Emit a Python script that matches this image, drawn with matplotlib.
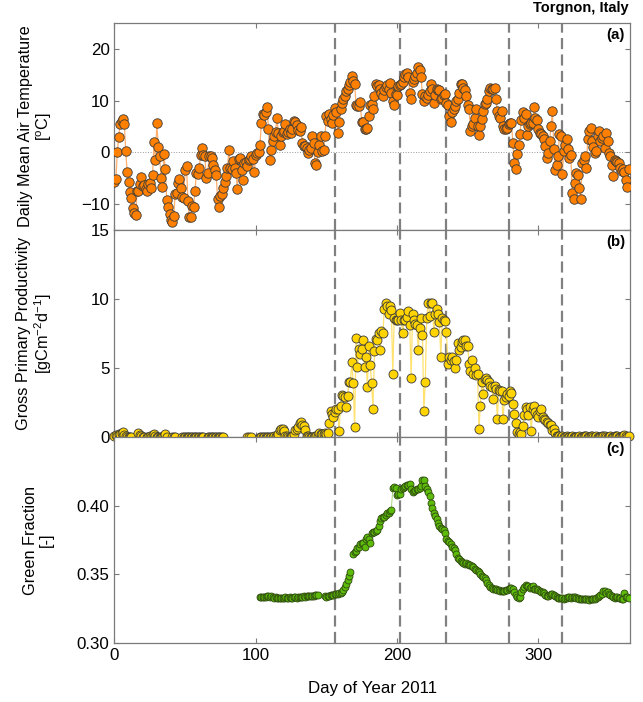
import numpy as np
import matplotlib
matplotlib.use("Agg")
import matplotlib.pyplot as plt

plt.rcParams['font.family'] = ['Liberation Sans', 'DejaVu Sans']
plt.rcParams['mathtext.fontset'] = 'custom'
plt.rcParams['mathtext.rm'] = 'Liberation Sans'
plt.rcParams['mathtext.it'] = 'Liberation Sans:italic'
plt.rcParams['mathtext.default'] = 'regular'

nan = np.nan

# ---- Data: daily mean air temperature, days 0..364 ----
temp = [
    -5.7, -5.2, 0.0, 3.0, 5.5, 6.0, 6.5, 5.5, 0.2, -3.8,          # 0
    -5.8, -7.7, -8.8, -10.8, -11.8, -12.2, -7.5, -7.5, -6.2, -4.7,  # 10
    -6.5, -6.3, -7.0, -7.5, -6.2, -6.0, -6.8, -4.3, 2.0, -1.5,      # 20
    5.7, 1.0, -0.7, -5.0, -6.7, -0.3, -3.2, -9.3, -10.5, -12.0,     # 30
    -13.0, -13.4, -12.3, -8.0, -7.8, -6.0, -5.2, -6.9, -8.6, -8.8,  # 40
    -3.5, -2.6, -9.4, -12.5, -12.5, -10.4, -10.5, -7.4, -4.0, -4.2, # 50
    -3.0, -0.5, 0.9, -0.6, -0.8, -5.0, -4.0, -0.8, -0.8, -1.1,      # 60
    -2.5, -3.5, -4.3, -9.1, -10.6, -8.4, -8.1, -6.8, -5.7, -4.6,    # 70
    -3.1, 0.5, -3.1, -3.3, -1.7, -3.0, -4.0, -7.0, -1.2, -1.0,      # 80
    -3.4, -5.4, -2.0, -1.9, -2.6, -1.5, -1.2, -0.8, -1.2, -3.8,     # 90
    -0.6, -0.2, 0.1, 1.5, 5.6, 7.5, 7.3, 7.7, 8.7, 4.5,             # 100
    -1.4, 0.5, 2.2, 3.1, 4.0, 6.6, 3.8, 1.5, 3.1, 4.0,              # 110
    4.2, 5.4, 3.5, 4.0, 4.6, 3.7, 4.6, 6.0, 5.9, 5.2,               # 120
    4.3, 4.2, 4.9, 1.9, 1.2, 1.3, 0.9, -0.1, 0.5, 0.9,              # 130
    3.2, 1.9, -2.1, -2.5, 0.0, 1.5, 3.2, 0.3, 0.5, 3.2,             # 140
    7.0, 6.1, 7.5, 6.4, 5.7, 7.2, 8.6, 7.8, 3.7, 5.9,               # 150
    8.3, 9.5, 10.3, 10.9, 11.9, 12.2, 13.0, 13.5, 14.8, 13.8,       # 160
    13.2, 9.2, 9.0, 9.0, 9.7, 5.9, 5.9, 4.6, 4.5, 4.8,              # 170
    7.0, 9.1, 9.4, 8.3, 10.9, 13.2, 12.9, 13.0, 12.2, 11.5,         # 180
    10.9, 12.0, 12.7, 13.0, 12.2, 13.4, 11.5, 10.0, 9.1, 11.2,      # 190
    11.1, 12.8, 13.0, 13.2, 13.5, 14.5, 15.1, 15.3, 14.6, 11.5,     # 200
    10.3, 13.6, 14.2, 14.8, 15.3, 16.4, 15.9, 14.5, 11.2, 9.9,      # 210
    10.9, 10.5, 11.0, 11.9, 13.2, 12.2, 9.6, 11.0, 12.3, 12.0,      # 220
    12.1, 10.3, 10.5, 11.0, 11.2, 9.5, 9.1, 7.0, 5.9, 7.7,          # 230
    8.3, 9.0, 9.9, 10.3, 11.5, 13.2, 13.2, 12.5, 12.1, 10.9,        # 240
    9.1, 8.3, 4.1, 5.0, 5.4, 6.7, 8.3, 5.1, 3.3, 5.0,               # 250
    6.4, 8.0, 9.3, 9.6, 10.3, 11.9, 12.5, 12.2, 12.2, 12.5,         # 260
    10.3, 8.0, 7.0, 6.7, 8.0, 5.1, 4.5, 4.6, 4.8, 5.4,              # 270
    5.7, 5.6, 1.9, -2.0, -3.2, -0.4, 1.4, 3.5, 6.3, 7.7,            # 280
    6.7, 7.4, 3.3, 5.0, 5.4, 5.6, 5.7, 8.8, 6.7, 6.3,               # 290
    4.5, 3.8, 3.5, 3.2, 2.6, 1.2, -1.0, -0.1, 2.2, 5.0,             # 300
    8.0, 0.6, -3.4, -2.5, -0.7, 3.5, 3.2, -4.1, 0.3, 1.5,           # 310
    2.5, 0.7, -1.0, -0.6, -7.8, -9.1, -6.0, -3.9, -4.3, -6.8,       # 320
    -9.1, -2.0, -1.5, -0.7, -3.0, 2.5, 4.1, 4.8, 2.2, 1.0,          # 330
    -0.1, 0.3, 3.2, 4.1, 2.2, 2.8, 3.2, 0.9, 3.8, 2.2,              # 340
    -0.2, -0.7, -2.5, -4.6, -1.4, -1.7, -1.8, -2.0, -3.0, -3.6,     # 350
    -3.2, -3.8, -5.4, -6.6, -3.2,                                   # 360
]

# ---- Data: gross primary productivity, days 0..364 ----
gpp = [
    0.05, 0.15, 0.1, 0.25, 0.2, 0.3, 0.35, 0.15, 0.05, 0.0,      # 0
    0.0, 0.0, 0.0, nan, nan, nan, nan, 0.3, 0.15, 0.05,          # 10
    0.0, 0.0, nan, 0.0, 0.0, 0.05, 0.0, 0.15, 0.25, 0.1,         # 20
    0.0, 0.0, 0.0, 0.0, 0.0, 0.05, 0.2, 0.0, nan, nan,           # 30
    nan, 0.0, 0.0, 0.0, nan, nan, nan, nan, 0.0, 0.0,            # 40
    0.0, 0.0, 0.0, 0.0, 0.0, 0.0, 0.0, 0.0, 0.0, 0.0,            # 50
    0.0, 0.0, 0.0, 0.0, nan, nan, 0.0, 0.0, 0.0, 0.0,            # 60
    0.0, 0.0, 0.0, 0.0, 0.0, 0.0, 0.0, 0.0, nan, nan,            # 70
    nan, nan, nan, nan, nan, nan, nan, nan, nan, nan,            # 80
    nan, nan, nan, nan, 0.0, 0.0, nan, 0.0, nan, nan,            # 90
    nan, nan, nan, 0.0, 0.0, 0.0, 0.0, 0.0, 0.0, 0.0,            # 100
    0.0, 0.0, 0.0, 0.05, 0.05, 0.1, 0.2, 0.5, 0.6, 0.6,          # 110
    0.4, 0.1, 0.05, 0.0, 0.0, 0.0, 0.05, 0.2, 0.5, 0.6,          # 120
    0.7, 1.0, 1.1, 0.9, 0.8, 0.5, 0.1, 0.05, 0.0, 0.0,           # 130
    0.0, 0.0, 0.05, 0.1, 0.1, 0.3, 0.25, 0.25, 0.25, 0.3,        # 140
    0.25, 0.3, 1.0, 1.9, 1.7, 1.45, 1.8, 2.0, 2.0, 0.45,         # 150
    2.25, 3.05, 3.0, 2.9, 2.2, 3.0, 4.0, 4.0, 5.4, 3.9,          # 160
    0.7, 7.2, 5.1, 6.4, 6.0, 6.4, 7.0, 5.1, 5.8, 3.6,            # 170
    6.6, 5.2, 3.9, 2.05, 6.2, 7.1, 7.0, 7.5, 6.3, 7.7,           # 180
    7.5, 9.3, 9.7, 9.5, 8.9, 9.5, 9.2, 4.6, 8.6, 8.5,            # 190
    8.5, 8.5, 9.0, 8.5, 7.5, 8.5, 8.5, 8.7, 9.1, 8.1,            # 200
    4.3, 8.9, 8.5, 8.2, 8.1, 6.3, 7.9, 8.6, 7.4, 1.9,            # 210
    4.0, 8.6, 9.7, 8.8, 9.7, 9.7, 7.6, 8.9, 9.3, 8.9,            # 220
    8.3, 5.8, 8.6, 8.5, 8.4, 7.6, 5.3, 5.8, 5.6, 5.8,            # 230
    5.5, 5.0, 5.6, 6.8, 6.3, 6.5, 6.9, 7.0, 7.0, 6.6,            # 240
    6.6, 5.3, 4.8, 5.6, 4.6, 5.0, 4.5, 4.6, 0.6, 2.25,           # 250
    4.0, 3.1, 4.2, 4.3, 4.1, 4.0, 3.7, 3.6, 2.75, 3.7,           # 260
    3.5, 1.3, 3.4, 3.3, 3.3, 1.3, 2.65, 2.9, 3.1, 3.0,           # 270
    3.3, 3.2, 2.4, 1.7, 1.0, 0.35, 0.25, 0.35, 0.25, 0.8,        # 280
    1.6, 2.2, 2.05, 1.6, 2.2, 0.45, 2.05, 2.25, 1.8, 1.6,        # 290
    1.45, 1.9, 2.05, 1.45, 1.3, 1.2, 1.1, 1.0, 0.85, 0.9,        # 300
    0.5, 0.6, 0.3, 0.05, 0.1, 0.05, 0.0, 0.05, 0.0, 0.0,         # 310
    0.05, 0.0, 0.0, 0.0, 0.05, 0.0, 0.0, 0.0, 0.0, 0.05,         # 320
    0.0, 0.0, 0.05, 0.1, 0.05, 0.0, 0.0, 0.05, 0.1, 0.0,         # 330
    0.0, 0.05, 0.0, 0.0, 0.0, 0.05, 0.1, 0.05, 0.0, 0.0,         # 340
    0.0, 0.05, 0.0, 0.0, 0.05, 0.1, 0.05, 0.0, 0.0, 0.05,        # 350
    0.1, 0.15, 0.1, 0.0, 0.05,                                   # 360
]

# ---- Data: green fraction, days 103..364 ----
green_start = 103
green = [
    0.3336, 0.3334, 0.3337, 0.3333, 0.3336, 0.3340, 0.3343,                  # 103
    0.3338, 0.3341, 0.3336, 0.3330, 0.3332, 0.3328, 0.3330, 0.3327, 0.3331, 0.3328,  # 110
    0.3330, 0.3332, 0.3329, 0.3331, 0.3333, 0.3330, 0.3328, 0.3332, 0.3334, 0.3331,  # 120
    0.3333, 0.3336, 0.3334, 0.3337, 0.3339, 0.3337, 0.3340, 0.3342, 0.3341, 0.3344,  # 130
    0.3346, 0.3345, 0.3348, 0.3350, 0.3352, nan, nan, nan, nan, 0.3340,               # 140
    0.3338, 0.3341, 0.3344, 0.3347, 0.3350, 0.3352, 0.3355, 0.3357, 0.3360, 0.3363,  # 150
    0.3367, 0.3372, 0.3388, 0.3405, 0.3430, 0.3460, 0.3490, 0.3520, nan, 0.3650,     # 160
    0.3660, 0.3670, 0.3690, 0.3700, 0.3720, 0.3725, 0.3730, 0.3700, 0.3760, 0.3770,  # 170
    0.3755, 0.3730, 0.3800, 0.3805, 0.3810, 0.3815, 0.3820, 0.3855, 0.3890, 0.3910,  # 180
    0.3915, 0.3920, 0.3935, 0.3945, 0.3950, 0.3960, 0.3970, 0.4130, 0.4135, 0.4128,  # 190
    0.4080, 0.4082, 0.4085, 0.4120, 0.4130, 0.4135, 0.4145, 0.4150, 0.4152, 0.4157,  # 200
    0.4120, 0.4097, 0.4110, 0.4115, 0.4120, 0.4125, 0.4130, 0.4145, 0.4190, 0.4186,  # 210
    0.4145, 0.4125, 0.4100, 0.4070, 0.4020, 0.3980, 0.3950, 0.3925, 0.3900, 0.3875,  # 220
    0.3855, 0.3840, 0.3830, 0.3820, 0.3800, 0.3760, 0.3745, 0.3735, 0.3720, 0.3700,  # 230
    0.3690, 0.3680, 0.3650, 0.3620, 0.3610, 0.3600, 0.3590, 0.3580, 0.3575, 0.3583,  # 240
    0.3578, 0.3570, 0.3565, 0.3560, 0.3550, 0.3540, 0.3530, 0.3524, 0.3515, 0.3500,  # 250
    0.3490, 0.3480, 0.3470, 0.3460, 0.3440, 0.3425, 0.3405, 0.3398, 0.3396, 0.3392,  # 260
    0.3390, 0.3386, 0.3383, 0.3380, 0.3379, 0.3380, 0.3382, 0.3384, 0.3388, 0.3392,  # 270
    0.3400, 0.3398, 0.3390, 0.3372, 0.3350, 0.3335, 0.3330, 0.3336, 0.3370, 0.3396,  # 280
    0.3410, 0.3420, 0.3418, 0.3413, 0.3400, 0.3405, 0.3413, 0.3396, 0.3393, 0.3390,  # 290
    0.3385, 0.3380, 0.3375, 0.3370, 0.3365, 0.3353, 0.3345, 0.3340, 0.3348, 0.3355,  # 300
    0.3360, 0.3353, 0.3345, 0.3336, 0.3330, 0.3329, 0.3330, 0.3327, 0.3324, 0.3327,  # 310
    0.3330, 0.3333, 0.3336, 0.3329, 0.3333, 0.3336, 0.3333, 0.3330, 0.3327, 0.3324,  # 320
    0.3324, 0.3322, 0.3319, 0.3320, 0.3321, 0.3318, 0.3316, 0.3321, 0.3320, 0.3319,  # 330
    0.3324, 0.3330, 0.3335, 0.3340, 0.3350, 0.3360, 0.3380, 0.3380, 0.3365, 0.3370,  # 340
    0.3360, 0.3348, 0.3342, 0.3336, 0.3330, 0.3336, 0.3333, 0.3330, 0.3327, 0.3324,  # 350
    0.3319, 0.3365, 0.3336, 0.3333, 0.3330,                                          # 360
]

# phenological transition dates (dashed lines)
transition_days = [156, 202, 235, 279, 317]

panel_letters = ['(a)', '(b)', '(c)']
ylabels = ['Daily Mean Air Temperature\n[$^{o}$C]',
           'Gross Primary Productivity\n[gCm$^{-2}$d$^{-1}$]',
           'Green Fraction\n[-]']

days_t = np.arange(len(temp))
days_g = np.arange(len(gpp))
days_f = np.arange(green_start, green_start + len(green))

FS = 12.2
FSY = 11.7

fig = plt.figure(figsize=(6.43, 7.02), dpi=100)
L, W = 0.178, 0.802
ax_a = fig.add_axes([L, 0.6724, W, 0.2949])
ax_b = fig.add_axes([L, 0.3775, W, 0.2949])
ax_c = fig.add_axes([L, 0.0840, W, 0.2935])
axes = [ax_a, ax_b, ax_c]

spine_col = '#7a7a7a'
for ax in axes:
    for s in ax.spines.values():
        s.set_color(spine_col)
        s.set_linewidth(0.9)
    ax.tick_params(direction='in', top=True, right=True, length=3.5,
                   width=0.8, color=spine_col, labelsize=FS,
                   labelcolor='black')
    ax.set_xlim(0, 365)
    ax.set_xticks([0, 100, 200, 300])
    for d in transition_days:
        ax.axvline(d, color='#808080', lw=1.6, ls=(0, (5, 2.4)), zorder=1)

# panel a
ax_a.axhline(0, color='#999999', lw=0.7, ls=':', zorder=1)
ax_a.plot(days_t, temp, '-', color='#FFB070', lw=0.9, zorder=2)
ax_a.plot(days_t, temp, 'o', ms=6.8, mfc='#FF8000', mec='#3a3a3a',
          mew=0.6, zorder=3)
ax_a.set_ylim(-15, 25)
ax_a.set_yticks([-10, 0, 10, 20])
ax_a.tick_params(labelbottom=False)

# panel b
ax_b.plot(days_g, gpp, '-', color='#FFE270', lw=0.9, zorder=2, clip_on=False)
ax_b.plot(days_g, gpp, 'o', ms=6.5, mfc='#FFD400', mec='#3a3a3a',
          mew=0.6, zorder=3, clip_on=False)
ax_b.set_ylim(0, 15)
ax_b.set_yticks([0, 5, 10, 15])
ax_b.tick_params(labelbottom=False)

# panel c
ax_c.plot(days_f, green, '-', color='#9BD060', lw=0.6, zorder=2)
ax_c.plot(days_f, green, 'o', ms=5.0, mfc='#5DBB0A', mec='#2f4a10',
          mew=0.6, zorder=3)
ax_c.set_ylim(0.30, 0.45)
ax_c.set_yticks([0.30, 0.35, 0.40])
ax_c.set_yticklabels(['0.30', '0.35', '0.40'])
ax_c.set_xlabel('Day of Year 2011', fontsize=FS, labelpad=13)

for ax, lab, yl in zip(axes, panel_letters, ylabels):
    ax.text(0.99, 0.975, lab, transform=ax.transAxes, ha='right', va='top',
            fontsize=10.8, fontweight='bold')
    ax.set_ylabel(yl, fontsize=FSY, linespacing=1.05)
    ax.yaxis.set_label_coords(-0.118, 0.5)

fig.text(0.978, 0.978, 'Torgnon, Italy', ha='right', va='bottom',
         fontsize=10.5, fontweight='bold')

fig.savefig('out.png', dpi=100)
